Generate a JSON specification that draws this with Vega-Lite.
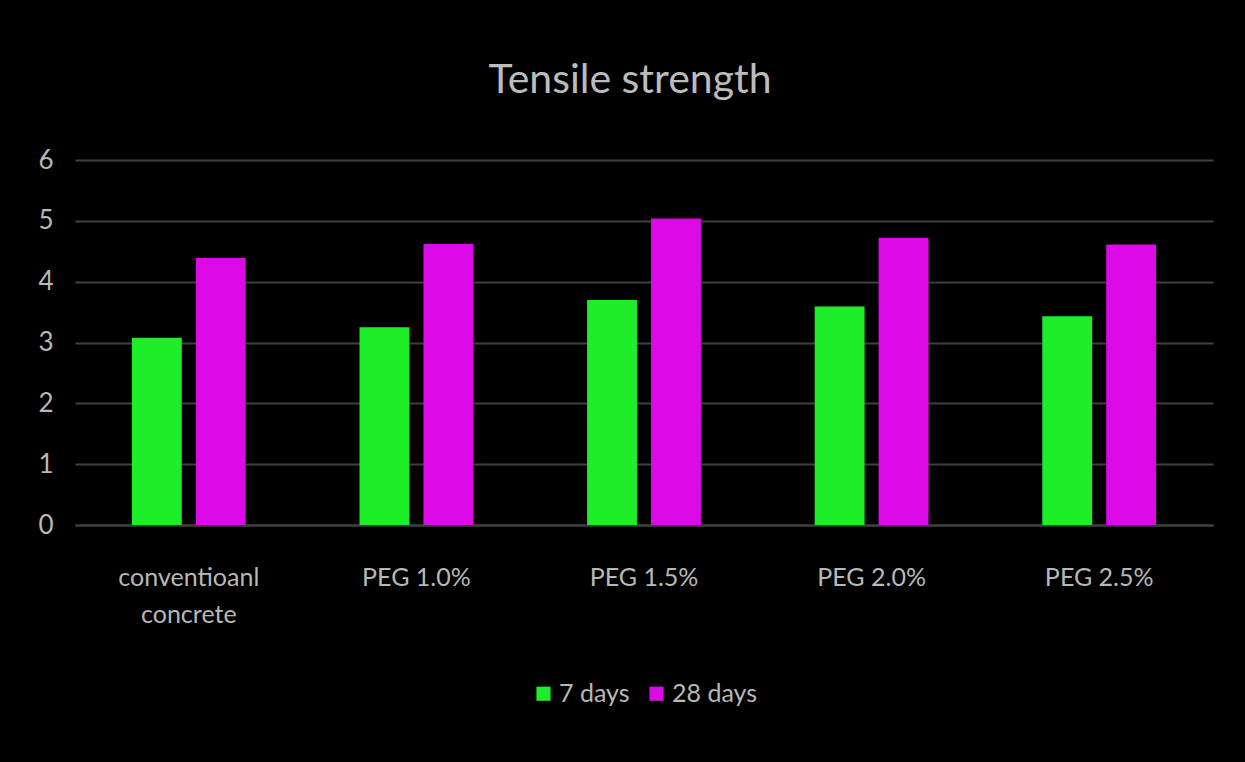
{
  "$schema": "https://vega.github.io/schema/vega-lite/v6.json",
  "autosize": {"type": "none"},
  "width": 1138,
  "height": 365,
  "padding": {"left": 75, "top": 160, "right": 32, "bottom": 237},
  "background": "black",
  "title": {
    "text": "Tensile strength",
    "font": "Lato",
    "fontSize": 41,
    "fontWeight": "normal",
    "color": "#bcbcbc",
    "anchor": "middle",
    "offset": 45,
    "dx": -14
  },
  "data": {
    "values": [
      {"group": "conventioanl concrete", "series": "7 days", "value": 3.08},
      {"group": "conventioanl concrete", "series": "28 days", "value": 4.39},
      {"group": "PEG 1.0%", "series": "7 days", "value": 3.25},
      {"group": "PEG 1.0%", "series": "28 days", "value": 4.62},
      {"group": "PEG 1.5%", "series": "7 days", "value": 3.7},
      {"group": "PEG 1.5%", "series": "28 days", "value": 5.04},
      {"group": "PEG 2.0%", "series": "7 days", "value": 3.59},
      {"group": "PEG 2.0%", "series": "28 days", "value": 4.72},
      {"group": "PEG 2.5%", "series": "7 days", "value": 3.43},
      {"group": "PEG 2.5%", "series": "28 days", "value": 4.61}
    ]
  },
  "mark": {"type": "bar"},
  "encoding": {
    "x": {
      "field": "group",
      "type": "nominal",
      "sort": ["conventioanl concrete", "PEG 1.0%", "PEG 1.5%", "PEG 2.0%", "PEG 2.5%"],
      "scale": {"paddingInner": 0.5, "paddingOuter": 0.25},
      "axis": {
        "title": null,
        "labelAngle": 0,
        "labelExpr": "datum.label == 'conventioanl concrete' ? ['conventioanl', 'concrete'] : datum.label",
        "labelFont": "Lato",
        "labelFontSize": 25,
        "labelColor": "#b8b8b8",
        "labelPadding": 52,
        "labelLineHeight": 37,
        "labelBaseline": "middle",
        "ticks": false,
        "domainColor": "#404040",
        "domainWidth": 2
      }
    },
    "xOffset": {
      "field": "series",
      "type": "nominal",
      "sort": ["7 days", "28 days"],
      "scale": {"paddingInner": 0.22}
    },
    "y": {
      "field": "value",
      "type": "quantitative",
      "scale": {"domain": [0, 6]},
      "axis": {
        "title": null,
        "values": [0, 1, 2, 3, 4, 5, 6],
        "labelOverlap": false,
        "labelFont": "Lato",
        "labelFontSize": 26,
        "labelColor": "#b8b8b8",
        "labelPadding": 22,
        "ticks": false,
        "domain": false,
        "gridColor": "#404040",
        "gridWidth": 2
      }
    },
    "color": {
      "field": "series",
      "type": "nominal",
      "sort": ["7 days", "28 days"],
      "scale": {"domain": ["7 days", "28 days"], "range": ["#1eee2a", "#dc0ae6"]},
      "legend": {
        "title": null,
        "orient": "bottom",
        "direction": "horizontal",
        "offset": 54,
        "symbolType": "square",
        "symbolSize": 200,
        "symbolStrokeWidth": 0,
        "labelFont": "Lato",
        "labelFontSize": 25,
        "labelColor": "#b8b8b8",
        "labelOffset": 3,
        "columnPadding": 14
      }
    }
  },
  "config": {
    "view": {"stroke": null},
    "legend": {"layout": {"bottom": {"anchor": "middle"}}}
  }
}
